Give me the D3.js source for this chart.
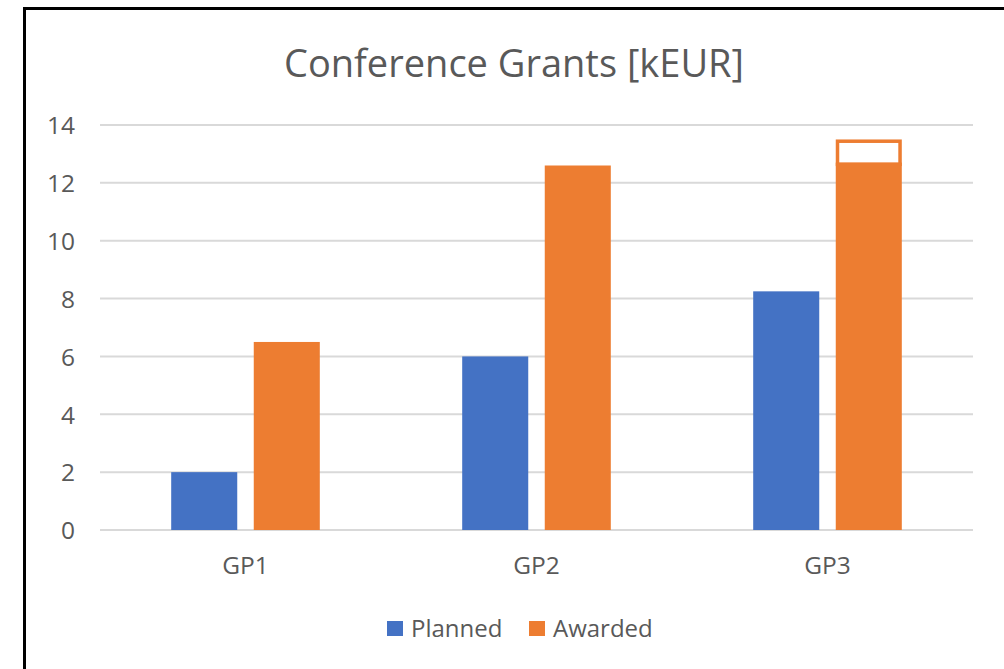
<!DOCTYPE html>
<html><head><meta charset="utf-8">
<script src="https://cdn.jsdelivr.net/npm/d3@7"></script>
<style>html,body{margin:0;padding:0;background:#fff;}svg{display:block;}</style>
</head><body>
<svg id="chart" width="1004" height="669"></svg>
<script>
const categories = ["GP1", "GP2", "GP3"];
const planned = [2, 6, 8.25];
const awarded = [6.5, 12.6, 12.7];
const awardedPending = [0, 0, 0.8];
const yTicks = [0, 2, 4, 6, 8, 10, 12, 14];
const seriesNames = ["Planned", "Awarded"];
const colors = ["#4472C4", "#ED7D31"];

const svg = d3.select("#chart");
const font = "'Open Sans', 'Noto Sans', sans-serif";
const textCol = "#595959";

// frame (cropped: top and left edges visible)
svg.append("line").attr("x1", 24.5).attr("x2", 1004).attr("y1", 8.5).attr("y2", 8.5)
  .attr("stroke", "#000").attr("stroke-width", 3);
svg.append("line").attr("x1", 24.5).attr("x2", 24.5).attr("y1", 7).attr("y2", 669)
  .attr("stroke", "#000").attr("stroke-width", 3);

const x0 = 100, x1 = 973, yTop = 125, yBot = 530;
const y = d3.scaleLinear().domain([0, 14]).range([yBot, yTop]);
const x = d3.scaleBand().domain(categories).range([x0, x1]).paddingInner(0).paddingOuter(0);
const inner = d3.scaleBand().domain(seriesNames).range([0, 148.6]).paddingInner(0.2);
const groupOffset = (x.bandwidth() - 148.6) / 2;

// gridlines
svg.append("g").selectAll("line").data(yTicks).join("line")
  .attr("x1", x0).attr("x2", x1)
  .attr("y1", d => y(d)).attr("y2", d => y(d))
  .attr("stroke", "#d9d9d9").attr("stroke-width", 2);

// y axis labels
const yAxis = d3.axisLeft(y).tickValues(yTicks).tickSize(0).tickPadding(0).tickFormat(d3.format("d"));
const gy = svg.append("g").attr("transform", "translate(75,0)").call(yAxis);
gy.select(".domain").remove();
gy.selectAll("text").attr("font-family", font).attr("font-size", 24.5).attr("fill", textCol)
  .attr("dy", "0.36em");

// x axis labels
const xAxis = d3.axisBottom(x).tickSize(0).tickPadding(0);
const gx = svg.append("g").attr("transform", "translate(0,557)").call(xAxis);
gx.select(".domain").remove();
gx.selectAll("text").attr("font-family", font).attr("font-size", 24.5).attr("fill", textCol);

// bars
const data = categories.map((c, i) => ({c, p: planned[i], a: awarded[i], e: awardedPending[i]}));
const groups = svg.append("g").selectAll("g").data(data).join("g")
  .attr("transform", d => `translate(${x(d.c) + groupOffset},0)`);

groups.append("rect")
  .attr("x", inner("Planned")).attr("width", inner.bandwidth())
  .attr("y", d => y(d.p)).attr("height", d => y(0) - y(d.p))
  .attr("fill", colors[0]);

groups.filter(d => d.e > 0).append("rect")
  .attr("x", inner("Awarded") + 1.75).attr("width", inner.bandwidth() - 3.5)
  .attr("y", d => y(d.a + d.e) + 1.75).attr("height", d => y(d.a) - y(d.a + d.e))
  .attr("fill", "#fff").attr("stroke", colors[1]).attr("stroke-width", 3.5);

groups.append("rect")
  .attr("x", inner("Awarded")).attr("width", inner.bandwidth())
  .attr("y", d => y(d.a)).attr("height", d => y(0) - y(d.a))
  .attr("fill", colors[1]);

// title
svg.append("text").attr("x", 514).attr("y", 77).attr("text-anchor", "middle")
  .attr("font-family", font).attr("font-size", 38).attr("fill", textCol)
  .text("Conference Grants [kEUR]");

// legend
const legend = svg.append("g");
const legX = [387, 529];
seriesNames.forEach((n, i) => {
  legend.append("rect").attr("x", legX[i]).attr("y", 621).attr("width", 16).attr("height", 15)
    .attr("fill", colors[i]);
  legend.append("text").attr("x", legX[i] + 24).attr("y", 637)
    .attr("font-family", font).attr("font-size", 24).attr("fill", textCol).text(n);
});
</script>
</body></html>
